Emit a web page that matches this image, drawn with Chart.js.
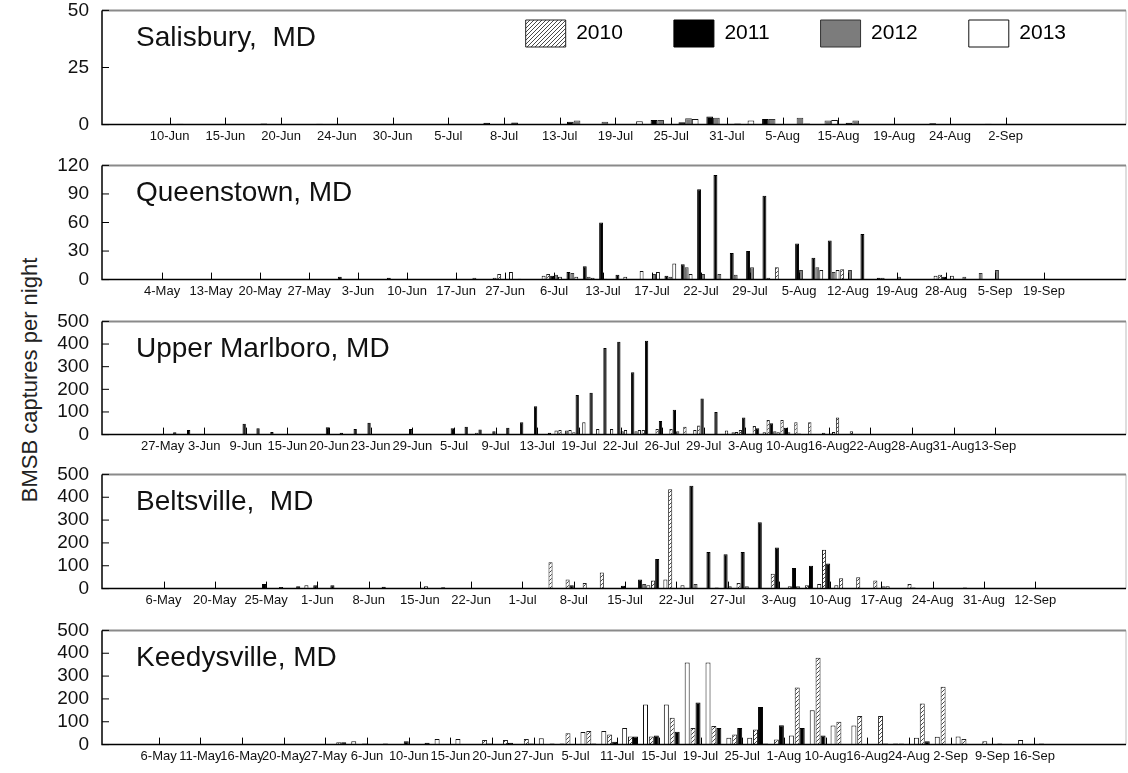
<!DOCTYPE html>
<html>
<head>
<meta charset="utf-8">
<script src="https://cdn.jsdelivr.net/npm/chart.js@4.4.1/dist/chart.umd.min.js"></script>
<style>
body{margin:0;background:#fff;width:1128px;height:773px;position:relative;overflow:hidden;font-family:"Liberation Sans",Arial,Helvetica,sans-serif}
canvas{position:absolute;left:0}
#ytitle{position:absolute;left:30px;top:380px;transform:translate(-50%,-50%) rotate(-90deg);font-size:22px;white-space:nowrap;color:#222}
</style>
</head>
<body>
<div id="ytitle">BMSB captures per night</div>
<canvas id="c1" width="1128" height="163" style="top:-14px"></canvas>
<canvas id="c2" width="1128" height="163" style="top:141px"></canvas>
<canvas id="c3" width="1128" height="162" style="top:297px"></canvas>
<canvas id="c4" width="1128" height="163" style="top:450px"></canvas>
<canvas id="c5" width="1128" height="163" style="top:606px"></canvas>
<script>
const years=["2010","2011","2012","2013"];

/* Salisbury */
const salTicks=["10-Jun","15-Jun","20-Jun","24-Jun","30-Jun","5-Jul","8-Jul","13-Jul","19-Jul","25-Jul","31-Jul","5-Aug","15-Aug","19-Aug","24-Aug","2-Sep"];
const sal2010=[0,0,0,0,0,0,0,0,0,0, 0,0,0,0,0,0,0,0,0,0, 0,0,0,0,0,0,0,0,0,0, 0,0,0,0];
const sal2011=[0,0.4,0,0,0.5,0,0.4,0,0.3,0, 0,0,0.8,0.9,0,1.2,0,0,2,1, 3.5,0.5,2.5,0,0,0.8,0,0,0.6,0, 0.4,0,0,0];
const sal2012=[0,0,0,0,0,0.3,0,0.3,0,0, 0,0,0,0,0.3,1.8,1.3,0,2,2.8, 3,0,2.5,3,1.8,1.8,0.3,0,0,0, 0,0.3,0,0];
const sal2013=[0,0,0,0,0,0,0,0,0,0, 0,0,0,0,0,0,0,1.5,0,2.5, 0,1.8,0,0.5,2,0,0,0,0,0, 0,0,0,0];

/* Queenstown */
const queTicks=["4-May","13-May","20-May","27-May","3-Jun","10-Jun","17-Jun","27-Jun","6-Jul","13-Jul","17-Jul","22-Jul","29-Jul","5-Aug","12-Aug","19-Aug","28-Aug","5-Sep","19-Sep"];
const que2010=[0,0,0,0,0,0,0,0,0,0, 0,0,0,0,0,0,0,0,0,0, 0,0,0,6,0,0,6,0,0,0, 0,0,0,0,0,0,0,0,0,0, 13,0,0,0,11,0,0,0,0,0, 5,0,0,0,0,0,0,0,0];
const que2011=[0,0,0,0,0,0,0,0,0,0, 0,0,0,3,0,0,2,0.5,0.5,0, 0,0,0,0,1,0,4,8,14,60, 5,0,0,4,16,95,110,28,30,88, 0,38,23,41,0,48,2,0,0.5,0, 3,0,0,0,0,0,0,0,0];
const que2012=[0,0,0,0,0,0,0,0,0,0, 0,0,0,0,0,0,0,0,0,0.5, 0,2,0,0,0,0,5,7,3,1, 0,0,6,3,13,6,6,5,13,2, 0,10,13,8,10,0,2,3,0,0, 0,3,7,10,0.5,0,1,0,0];
const que2013=[0,0,0,0,0,0,0,0,0,0, 0,0,0,0,0,0,0,0,0,0, 0,0,2,8,0,4,3,3,2,0, 3,9,8,17,6,0,0,0,0,0, 0,0,10,10,0,0,0,0,0,4, 4,0,0,0,0,0,0,0,0];

/* Upper Marlboro */
const upmTicks=["27-May","3-Jun","9-Jun","15-Jun","20-Jun","23-Jun","29-Jun","5-Jul","9-Jul","13-Jul","19-Jul","22-Jul","26-Jul","29-Jul","3-Aug","10-Aug","16-Aug","22-Aug","28-Aug","31-Aug","13-Sep"];
const upm2010=[0,0,0,0,0,0,0,0,0,0, 0,0,0,0,0,0,0,0,0,0, 0,0,0,0,0,8,0,0,0,0, 0,20,10,0,0,0,0,20,25,25, 35,40,0,18,20,38,65,65,55,55, 8,75,15,0,0,0,0,0,0,0, 0,0,0,0,0,0,0,0,0];
const upm2011=[0,0,0,10,20,0,3,2,48,28, 12,1,1,1,32,8,25,52,3,3, 25,2,2,28,35,22,15,30,55,125, 8,0,175,185,382,410,275,415,60,110, 0,160,100,0,75,28,50,30,5,0, 0,0,0,1,0,1,0,0,0,0, 0,0,0,0,0,0,0,0,0];
const upm2012=[0,0,0,4,0,0,0,0,0,0, 0,0,0,0,0,0,0,0,0,0, 0,0,0,0,0,0,0,0,0,0, 0,18,0,0,0,15,15,0,0,15, 0,0,0,10,0,0,15,10,0,0, 5,0,0,0,0,0,0,0,0,0, 0,0,0,0,0,0,0,0,0];
const upm2013=[0,0,0,0,0,0,0,0,0,0, 0,0,0,0,0,0,0,0,0,0, 0,0,0,0,0,0,0,0,0,0, 18,20,55,25,25,20,20,0,0,0, 20,0,0,12,0,10,10,0,0,0, 12,0,0,0,0,0,0,0,0,0, 0,0,0,0,0,0,0,0,0];

/* Beltsville */
const belTicks=["6-May","20-May","25-May","1-Jun","8-Jun","15-Jun","22-Jun","1-Jul","8-Jul","15-Jul","22-Jul","27-Jul","3-Aug","10-Aug","17-Aug","24-Aug","31-Aug","12-Sep"];
const bel2010=[0,0,0,0,0,0,0,0,0,0, 0,0,0,0,0,0,0,0,0,0, 0,0,0,0,0,115,40,25,70,0, 0,35,435,0,0,0,25,0,65,10, 15,170,45,50,35,0,20,0,0,0, 0,0,0,0,0,0];
const bel2011=[0,0,0,0,0,0,1,0,20,7, 10,15,15,0,0,8,1,0,0,2, 0,0,1,2,0,0,15,0,0,12, 40,130,0,450,160,150,160,290,180,90, 100,110,0,0,0,0,5,0,0,5, 0,0,0,0,0,0];
const bel2012=[0,0,0,0,0,0,0,2,0,0, 0,0,0,0,0,0,0,0,0,2, 0,0,0,0,2,0,0,0,0,0, 20,0,0,20,0,10,10,0,0,10, 0,0,0,0,10,2,0,0,0,0, 0,1,0,0,0,0];
const bel2013=[0,0,0,0,0,0,0,0,0,0, 15,0,0,0,0,0,0,10,6,0, 0,0,0,0,0,0,0,0,0,0, 15,40,15,0,5,0,0,0,0,0, 20,15,0,0,10,0,0,0,0,0, 0,0,0,0,0,0];

/* Keedysville */
const keeTicks=["6-May","11-May","16-May","20-May","27-May","6-Jun","10-Jun","15-Jun","20-Jun","27-Jun","5-Jul","11-Jul","15-Jul","19-Jul","25-Jul","1-Aug","10-Aug","16-Aug","24-Aug","2-Sep","9-Sep","16-Sep"];
const kee2010=[0,1,0,0,0,0,0,0,0,0, 10,0,0,0,0,0,0,20,20,25, 0,50,59,44,35,35,118,73,81,44, 66,22,250,380,100,125,125,5,180,253, 25,15,0,0,0,0];
const kee2011=[0,0,0,0,0,0,0,0,0,0, 10,5,5,15,8,0,0,5,8,5, 5,0,5,12,35,40,56,184,73,73, 165,85,73,40,3,0,5,0,15,0, 3,0,0,0,0,0];
const kee2012=[0,0,1,0,1,1,2,2,2,3, 0,0,0,0,0,0,2,0,0,0, 0,0,0,0,0,0,0,0,0,0, 5,0,0,0,0,0,0,0,0,0, 0,0,0,0,0,0];
const kee2013=[0,0,0,0,0,0,0,0,0,0, 15,3,0,0,25,25,0,0,0,28, 5,55,60,73,176,176,360,360,30,30, 0,40,150,84,84,0,5,30,34,35, 0,5,20,5,0,0];

const FONT='"Liberation Sans", Arial, Helvetica, sans-serif';
Chart.defaults.font.family=FONT;
Chart.defaults.color="#111";

function hatch(){
const c=document.createElement("canvas");
c.width=4;c.height=4;
const g=c.getContext("2d");
g.fillStyle="#fff";g.fillRect(0,0,4,4);
g.strokeStyle="#333";g.lineWidth=0.9;
g.beginPath();
g.moveTo(0,4);g.lineTo(4,0);
g.moveTo(-1,1);g.lineTo(1,-1);
g.moveTo(3,5);g.lineTo(5,3);
g.stroke();
return g.createPattern(c,"repeat");
}

const fills=[hatch(),"#000","#7c7c7c","#fff"];
const edges=["#222","#000","#333","#111"];

/* frame, inward ticks and site name */
const frame={
id:"frame",
afterDatasetsDraw(chart,args,opts){
const {ctx,chartArea:a,scales:{x,y}}=chart;
ctx.save();
ctx.strokeStyle="#bdbdbd";ctx.lineWidth=1;
ctx.beginPath();ctx.moveTo(a.right,a.top);ctx.lineTo(a.right,a.bottom);ctx.stroke();
ctx.strokeStyle="#8a8a8a";ctx.lineWidth=2;
ctx.beginPath();ctx.moveTo(a.left,a.top);ctx.lineTo(a.right,a.top);ctx.stroke();
ctx.strokeStyle="#000";ctx.lineWidth=1.5;
ctx.beginPath();ctx.moveTo(a.left,a.top);ctx.lineTo(a.left,a.bottom);ctx.lineTo(a.right,a.bottom);ctx.stroke();
ctx.lineWidth=1;
ctx.beginPath();
y.ticks.forEach(t=>{const p=y.getPixelForValue(t.value);ctx.moveTo(a.left,p);ctx.lineTo(a.left+7,p);});
x.ticks.forEach(t=>{const p=Math.round(x.getPixelForValue(t.value))+0.5;ctx.moveTo(p,a.bottom);ctx.lineTo(p,a.bottom-7);});
ctx.stroke();
ctx.fillStyle="#111";
ctx.font="28px "+FONT;
ctx.textBaseline="middle";
ctx.fillText(opts.label,a.left+34,a.top+28);
ctx.restore();
}
};

/* legend sits inside the top panel */
const legendInside={
id:"legendInside",
beforeInit(chart){
const fit=chart.legend.fit;
chart.legend.fit=function(){fit.call(this);this.height=0;};
},
afterLayout(chart){
const lg=chart.legend;
lg.top=34-51;
lg.bottom=100;
lg.right=1117;
}
};

const panels=[
{id:"c1",name:"Salisbury,  MD",ticks:salTicks,first:1,step:2,shift:-0.5,xmin:-0.777,xmax:33.67,ymax:50,ystep:25,series:[sal2010,sal2011,sal2012,sal2013],legend:true},
{id:"c2",name:"Queenstown, MD",ticks:queTicks,first:2,step:3,shift:0,xmin:-0.03,xmax:59.37,ymax:120,ystep:30,series:[que2010,que2011,que2012,que2013]},
{id:"c3",name:"Upper Marlboro, MD",ticks:upmTicks,first:2,step:3,shift:0,xmin:-0.608,xmax:69.67,ymax:500,ystep:100,series:[upm2010,upm2011,upm2012,upm2013]},
{id:"c4",name:"Beltsville,  MD",ticks:belTicks,first:2,step:3,shift:0,xmin:0.066,xmax:56.64,ymax:500,ystep:100,series:[bel2010,bel2011,bel2012,bel2013]},
{id:"c5",name:"Keedysville, MD",ticks:keeTicks,first:1,step:2,shift:0,xmin:-0.603,xmax:46.3,ymax:500,ystep:100,series:[kee2010,kee2011,kee2012,kee2013]}
];

panels.forEach(p=>{
const cats=p.series[0].map((v,i)=>i);
new Chart(document.getElementById(p.id),{
type:"bar",
data:{
labels:cats,
datasets:years.map((yr,k)=>({
label:yr,
data:p.series[k],
backgroundColor:fills[k],
borderColor:edges[k],
borderWidth:1,
categoryPercentage:0.96,
barPercentage:1
}))
},
options:{
responsive:false,
animation:false,
layout:{padding:{top:4,right:2,bottom:0,left:0}},
plugins:{
legend:p.legend?{
position:"top",align:"end",
labels:{boxWidth:40,boxHeight:27,padding:51,color:"#000",font:{size:21}}
}:{display:false},
tooltip:{enabled:false},
frame:{label:p.name}
},
scales:{
x:{
type:"linear",min:p.xmin,max:p.xmax,bounds:"data",
grid:{display:false,drawTicks:false},border:{display:false},
afterBuildTicks:s=>{s.ticks=p.ticks.map((t,m)=>({value:p.first+m*p.step+p.shift}));},
afterFit:s=>{s.height=24;},
ticks:{autoSkip:false,maxRotation:0,minRotation:0,padding:4,color:"#111",font:{size:13},
callback:(v,i)=>p.ticks[i]}
},
y:{
min:0,max:p.ymax,
grid:{display:false,drawTicks:false},border:{display:false},
afterFit:s=>{s.width=102;},
ticks:{stepSize:p.ystep,autoSkip:false,padding:13,color:"#111",font:{size:19}}
}
}
},
plugins:p.legend?[frame,legendInside]:[frame]
});
});
</script>
</body>
</html>
